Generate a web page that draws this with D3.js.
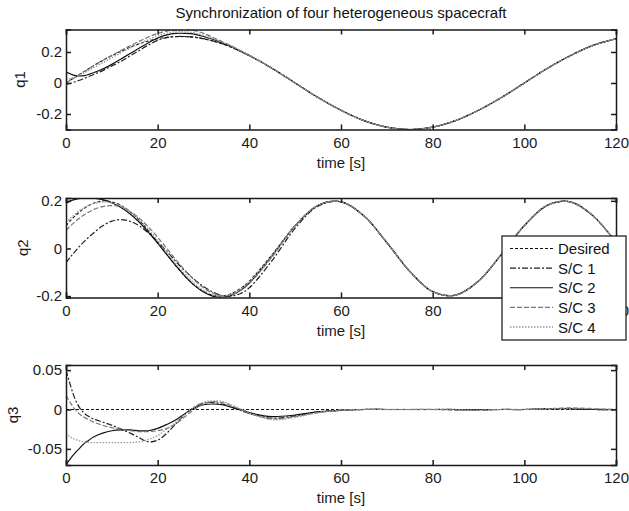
<!DOCTYPE html>
<html>
<head>
<meta charset="utf-8">
<script src="https://cdn.jsdelivr.net/npm/d3@7"></script>
<style>
  html, body { margin: 0; padding: 0; background: #fff; }
  svg { display: block; font-family: "Liberation Sans", Arial, Helvetica, sans-serif; }
</style>
</head>
<body>
<svg id="chart" width="629" height="511"></svg>
<script>
// ---------------- DATA ----------------
const title = "Synchronization of four heterogeneous spacecraft";
const seriesNames = ["Desired", "S/C 1", "S/C 2", "S/C 3", "S/C 4"];
const time = [0,1,2,3,4,5,6,8,10,12,14,16,18,20,22,24,26,28,30,32,34,36,38,40,45,50,55,60,65,70,75,80,85,90,95,100,105,110,115,120];
const xTicks = [0, 20, 40, 60, 80, 100, 120];

// q1
const q1Desired = [0,0.019,0.038,0.056,0.075,0.093,0.112,0.146,0.176,0.204,0.231,0.253,0.271,0.285,0.295,0.299,0.299,0.295,0.285,0.271,0.253,0.231,0.204,0.176,0.094,0,-0.094,-0.176,-0.243,-0.285,-0.3,-0.285,-0.243,-0.176,-0.094,0,0.094,0.176,0.243,0.285];
const q1SC1 = [-0.01,-0.002,0.008,0.018,0.03,0.042,0.055,0.08,0.11,0.14,0.175,0.21,0.245,0.275,0.293,0.3,0.3,0.296,0.286,0.272,0.254,0.232,0.205,0.176,0.094,0,-0.094,-0.176,-0.243,-0.285,-0.3,-0.285,-0.243,-0.176,-0.094,0,0.094,0.176,0.243,0.285];
const q1SC2 = [0.07,0.058,0.048,0.045,0.048,0.056,0.066,0.09,0.12,0.155,0.19,0.225,0.26,0.29,0.31,0.32,0.32,0.315,0.3,0.282,0.26,0.236,0.207,0.178,0.094,0,-0.094,-0.176,-0.243,-0.285,-0.3,-0.285,-0.243,-0.176,-0.094,0,0.094,0.176,0.243,0.285];
const q1SC3 = [0,0.018,0.036,0.055,0.073,0.092,0.11,0.145,0.178,0.21,0.24,0.27,0.297,0.32,0.335,0.343,0.345,0.338,0.32,0.295,0.268,0.24,0.21,0.179,0.094,0,-0.094,-0.176,-0.243,-0.285,-0.3,-0.285,-0.243,-0.176,-0.094,0,0.094,0.176,0.243,0.285];
const q1SC4 = [0.02,0.03,0.04,0.052,0.066,0.082,0.098,0.13,0.163,0.195,0.225,0.255,0.28,0.305,0.322,0.33,0.33,0.323,0.308,0.288,0.264,0.238,0.208,0.178,0.094,0,-0.094,-0.176,-0.243,-0.285,-0.3,-0.285,-0.243,-0.176,-0.094,0,0.094,0.176,0.243,0.285];
const q1Ticks = [-0.2, 0, 0.2];

// q2
const q2Desired = [0.096,0.118,0.137,0.154,0.169,0.181,0.19,0.2,0.196,0.181,0.154,0.118,0.074,0.025,-0.025,-0.074,-0.118,-0.154,-0.181,-0.196,-0.2,-0.19,-0.169,-0.137,-0.025,0.096,0.181,0.196,0.137,0.025,-0.096,-0.181,-0.196,-0.137,-0.025,0.096,0.181,0.196,0.137,0.025];
const q2SC1 = [-0.06,-0.035,-0.012,0.01,0.03,0.048,0.065,0.095,0.115,0.121,0.114,0.095,0.065,0.028,-0.012,-0.055,-0.095,-0.13,-0.16,-0.183,-0.197,-0.2,-0.19,-0.165,-0.05,0.085,0.178,0.196,0.137,0.025,-0.096,-0.181,-0.196,-0.137,-0.025,0.096,0.181,0.196,0.137,0.025];
const q2SC2 = [0.19,0.2,0.206,0.21,0.212,0.212,0.211,0.205,0.192,0.172,0.145,0.11,0.068,0.022,-0.026,-0.073,-0.117,-0.155,-0.183,-0.2,-0.205,-0.197,-0.177,-0.145,-0.03,0.096,0.181,0.196,0.137,0.025,-0.096,-0.181,-0.196,-0.137,-0.025,0.096,0.181,0.196,0.137,0.025];
const q2SC3 = [0.075,0.095,0.113,0.128,0.142,0.153,0.163,0.176,0.18,0.174,0.155,0.127,0.09,0.047,0,-0.048,-0.093,-0.133,-0.165,-0.187,-0.198,-0.195,-0.178,-0.147,-0.035,0.096,0.181,0.196,0.137,0.025,-0.096,-0.181,-0.196,-0.137,-0.025,0.096,0.181,0.196,0.137,0.025];
const q2SC4 = [0.11,0.128,0.145,0.16,0.172,0.181,0.188,0.195,0.192,0.179,0.155,0.121,0.08,0.033,-0.016,-0.064,-0.108,-0.146,-0.176,-0.194,-0.2,-0.192,-0.172,-0.14,-0.028,0.096,0.181,0.196,0.137,0.025,-0.096,-0.181,-0.196,-0.137,-0.025,0.096,0.181,0.196,0.137,0.025];
const q2Ticks = [-0.2, 0, 0.2];

// q3
const q3Desired = [0,0,0,0,0,0,0,0,0,0,0,0,0,0,0,0,0,0,0,0,0,0,0,0,0,0,0,0,0,0,0,0,0,0,0,0,0,0,0,0];
const q3SC1 = [0.05,0.03,0.013,0.002,-0.005,-0.009,-0.012,-0.016,-0.02,-0.025,-0.03,-0.036,-0.041,-0.039,-0.03,-0.018,-0.006,0.003,0.008,0.009,0.007,0.003,-0.001,-0.005,-0.011,-0.008,-0.003,-0.001,0,0,0,0,0,-0.001,0,0,0.001,0.001,0,0];
const q3SC2 = [-0.0705,-0.062,-0.055,-0.049,-0.043,-0.039,-0.035,-0.03,-0.027,-0.026,-0.026,-0.027,-0.027,-0.024,-0.019,-0.013,-0.005,0.002,0.006,0.007,0.006,0.003,0,-0.004,-0.009,-0.007,-0.003,-0.001,0,0,0,0,0,0,0,0,0.001,0.001,0,0];
const q3SC3 = [0.018,0.008,0,-0.006,-0.01,-0.013,-0.016,-0.02,-0.023,-0.025,-0.027,-0.028,-0.028,-0.027,-0.024,-0.018,-0.009,0,0.007,0.01,0.009,0.005,0,-0.005,-0.012,-0.009,-0.004,-0.001,0,0,0,0,-0.001,-0.001,0,0,0.001,0.002,0.001,0];
const q3SC4 = [-0.03,-0.035,-0.038,-0.04,-0.041,-0.042,-0.042,-0.042,-0.042,-0.042,-0.042,-0.041,-0.038,-0.033,-0.025,-0.016,-0.006,0.003,0.009,0.011,0.01,0.006,0.001,-0.004,-0.013,-0.01,-0.004,-0.001,0,0,0,0,0,-0.001,0,0,0.001,0.001,0.001,0];
const q3Ticks = [-0.05, 0, 0.05];

// ---------------- STYLE ----------------
const styles = [
  { color: "#111", dash: "3,2", width: 1.1 },
  { color: "#222", dash: "6,2,2,2", width: 1.2 },
  { color: "#111", dash: null, width: 1.2 },
  { color: "#777", dash: "5,2", width: 1.2 },
  { color: "#9a9a9a", dash: "1.5,1.5", width: 1.3 }
];

const panels = [
  { label: "q1", series: [q1Desired, q1SC1, q1SC2, q1SC3, q1SC4], domain: [-0.3, 0.345], ticks: q1Ticks, top: 29.5, bottom: 129.5, ylabX: 19 },
  { label: "q2", series: [q2Desired, q2SC1, q2SC2, q2SC3, q2SC4], domain: [-0.206, 0.212], ticks: q2Ticks, top: 198, bottom: 297.5, ylabX: 22 },
  { label: "q3", series: [q3Desired, q3SC1, q3SC2, q3SC3, q3SC4], domain: [-0.0705, 0.0565], ticks: q3Ticks, top: 365, bottom: 465, ylabX: 12 }
];
const yFmt = d => d === 0 ? "0" : String(d);

const left = 66, right = 616;
const svg = d3.select("#chart");
const fontSize = 15;
const tickLen = 5;

svg.append("text")
  .attr("x", (left + right) / 2).attr("y", 18)
  .attr("text-anchor", "middle")
  .attr("font-size", 15).attr("fill", "#111")
  .text(title);

const x = d3.scaleLinear().domain([0, 120]).range([left, right]);

panels.forEach((p, pi) => {
  const y = d3.scaleLinear().domain(p.domain).range([p.bottom, p.top]);
  const g = svg.append("g");

  const clipId = "clip" + pi;
  svg.append("clipPath").attr("id", clipId)
    .append("rect").attr("x", left).attr("y", p.top)
    .attr("width", right - left).attr("height", p.bottom - p.top);

  const line = d3.line()
    .x((d, i) => x(time[i]))
    .y(d => y(d))
    .curve(d3.curveCatmullRom.alpha(0.5));
  const lg = g.append("g").attr("clip-path", `url(#${clipId})`);
  p.series.forEach((s, si) => {
    const st = styles[si];
    lg.append("path")
      .datum(s)
      .attr("d", line)
      .attr("fill", "none")
      .attr("stroke", st.color)
      .attr("stroke-width", st.width)
      .attr("stroke-dasharray", st.dash);
  });

  const axB = d3.axisBottom(x).tickValues(xTicks).tickSize(-tickLen).tickPadding(7.5).tickFormat(d3.format("d"));
  const axT = d3.axisTop(x).tickValues(xTicks).tickSize(-tickLen).tickFormat("");
  const axL = d3.axisLeft(y).tickValues(p.ticks).tickSize(-tickLen).tickPadding(4).tickFormat(yFmt);
  const axR = d3.axisRight(y).tickValues(p.ticks).tickSize(-tickLen).tickFormat("");

  const styleAxis = sel => {
    sel.selectAll("path.domain").attr("stroke", "#1a1a1a").attr("stroke-width", 1.5);
    sel.selectAll(".tick line").attr("stroke", "#1a1a1a").attr("stroke-width", 1.5);
    sel.selectAll(".tick text").attr("font-size", fontSize).attr("fill", "#1a1a1a")
      .attr("font-family", '"Liberation Sans", Arial, Helvetica, sans-serif');
  };

  g.append("g").attr("transform", `translate(0,${p.bottom})`).call(axB).call(styleAxis);
  g.append("g").attr("transform", `translate(0,${p.top})`).call(axT).call(styleAxis);
  g.append("g").attr("transform", `translate(${left},0)`).call(axL).call(styleAxis);
  g.append("g").attr("transform", `translate(${right},0)`).call(axR).call(styleAxis);

  g.append("text")
    .attr("x", (left + right) / 2).attr("y", p.bottom + 38)
    .attr("text-anchor", "middle").attr("font-size", fontSize).attr("fill", "#1a1a1a")
    .text("time [s]");

  g.append("text")
    .attr("transform", `translate(${p.ylabX},${(p.top + p.bottom) / 2}) rotate(-90)`)
    .attr("text-anchor", "middle").attr("dominant-baseline", "central")
    .attr("font-size", fontSize).attr("fill", "#1a1a1a")
    .text(p.label);
});

// legend
const lgX = 502, lgY = 236, lgW = 124, lgH = 104;
const legend = svg.append("g");
legend.append("rect")
  .attr("x", lgX).attr("y", lgY).attr("width", lgW).attr("height", lgH)
  .attr("fill", "#fff").attr("stroke", "#111").attr("stroke-width", 1.2);
const ly = d3.scalePoint().domain(seriesNames).range([lgY + 12.5, lgY + 91]);
seriesNames.forEach((name, i) => {
  const st = styles[i];
  legend.append("line")
    .attr("x1", lgX + 8).attr("x2", lgX + 51)
    .attr("y1", ly(name)).attr("y2", ly(name))
    .attr("stroke", st.color).attr("stroke-width", st.width)
    .attr("stroke-dasharray", st.dash);
  legend.append("text")
    .attr("x", lgX + 56).attr("y", ly(name))
    .attr("dominant-baseline", "central")
    .attr("font-size", fontSize).attr("fill", "#111")
    .text(name);
});
</script>
</body>
</html>
